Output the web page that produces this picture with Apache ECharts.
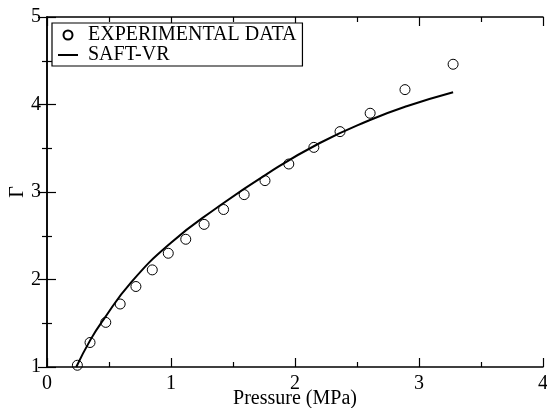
<!DOCTYPE html>
<html>
<head>
<meta charset="utf-8">
<script src="https://cdn.jsdelivr.net/npm/echarts@6/dist/echarts.min.js"></script>
<style>html,body{margin:0;padding:0;background:#fff}#c{width:547px;height:408px}</style>
</head>
<body>
<div id="c"></div>
<script>
const expPressure = [0.245,0.347,0.474,0.59,0.717,0.849,0.978,1.119,1.267,1.424,1.59,1.758,1.95,2.152,2.363,2.606,2.887,3.275];
const expGamma    = [1.02,1.28,1.51,1.72,1.92,2.11,2.30,2.46,2.63,2.80,2.97,3.13,3.32,3.51,3.69,3.90,4.17,4.46];
const saftPressure = [0.236,0.35,0.45,0.68,1.00,1.35,1.80,2.20,2.60,2.90,3.275];
const saftGamma    = [1.00,1.31,1.53,1.97,2.42,2.80,3.23,3.56,3.82,3.98,4.14];
const xTicks = [0,1,2,3,4];
const yTicks = [1,2,3,4,5];
const seriesNames = ['EXPERIMENTAL DATA','SAFT-VR'];

const font = 'Liberation Serif, Times New Roman, serif';
const chart = echarts.init(document.getElementById('c'), null, {renderer:'canvas'});
const axCommon = {
  axisLine:{show:true,lineStyle:{color:'#000',width:1.5}},
  axisTick:{show:true,inside:true,length:9,lineStyle:{color:'#000',width:1.2}},
  minorTick:{show:true,splitNumber:2,length:5,lineStyle:{color:'#000',width:1.2}},
  splitLine:{show:false}
};
chart.setOption({
  animation:false,
  backgroundColor:'#fff',
  grid:{left:47,right:4,top:17,bottom:41,containLabel:false,outerBoundsMode:'none'},
  legend:{
    show:true, orient:'vertical', left:52, top:23,
    backgroundColor:'#fff', borderColor:'#000', borderWidth:1.2,
    padding:[2,6,1,6], itemWidth:20, itemHeight:9, itemGap:0,
    textStyle:{fontFamily:font,fontSize:20,lineHeight:19,color:'#000',padding:[0,0,0,5]},
    data:[
      {name:seriesNames[0],icon:'emptyCircle',itemStyle:{color:'#000',borderColor:'#000',borderWidth:1,opacity:1}},
      {name:seriesNames[1],icon:'path://M0,0L20,0L20,2L0,2Z',itemStyle:{color:'#000'}}
    ]
  },
  xAxis:[
    Object.assign({type:'value',min:xTicks[0],max:xTicks[xTicks.length-1],interval:1,position:'bottom',
      name:'Pressure (MPa)',nameLocation:'middle',nameGap:22,nameMoveOverlap:false,
      nameTextStyle:{fontFamily:font,fontSize:20,color:'#000'},
      axisLabel:{fontFamily:font,fontSize:20,color:'#000',margin:7}},axCommon),
    Object.assign({type:'value',min:0,max:4,interval:1,position:'top',axisLabel:{show:false}},axCommon)
  ],
  yAxis:[
    Object.assign({type:'value',min:yTicks[0],max:yTicks[yTicks.length-1],interval:1,position:'left',
      name:'Γ',nameLocation:'middle',nameGap:19,nameRotate:90,nameMoveOverlap:false,
      nameTextStyle:{fontFamily:font,fontSize:20,color:'#000'},
      axisLabel:{fontFamily:font,fontSize:20,color:'#000',margin:6}},axCommon),
    Object.assign({type:'value',min:1,max:5,interval:1,position:'right',axisLabel:{show:false}},axCommon)
  ],
  series:[
    {name:seriesNames[0],type:'scatter',symbol:'circle',symbolSize:10,
     itemStyle:{color:'rgba(255,255,255,0)',borderColor:'#000',borderWidth:1,opacity:1},
     data:expPressure.map((x,i)=>[x,expGamma[i]]),z:3},
    {name:seriesNames[1],type:'line',smooth:0.5,symbol:'none',showSymbol:false,
     lineStyle:{color:'#000',width:2},itemStyle:{color:'#000'},
     data:saftPressure.map((x,i)=>[x,saftGamma[i]]),z:2}
  ]
});
</script>
</body>
</html>
